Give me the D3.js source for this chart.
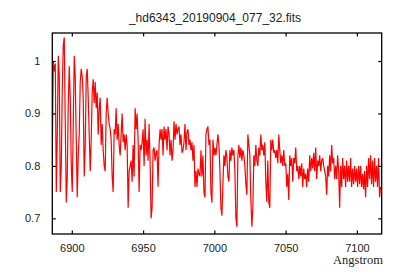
<!DOCTYPE html>
<html>
<head>
<meta charset="utf-8">
<script src="https://cdn.jsdelivr.net/npm/d3@7"></script>
<style>
  body { margin: 0; background: #fff; }
  svg { display: block; }
</style>
</head>
<body>
<div id="dataviz"></div>
<script>
// spectrum header (start wavelength and step, Angstrom)
var crval1 = 6886.3;
var cdelt1 = 0.7;

// normalised flux, one sample per step
var flux = [
  0.82, 1.00, 0.98, 0.995, 0.75, 0.86, 1.01, 0.97, 0.75, 0.80,
  0.95, 1.03, 1.045, 0.88, 0.73, 0.78, 0.92, 0.99, 0.93, 0.80,
  0.75, 0.88, 1.01, 0.97, 0.85, 0.74, 0.82, 0.86, 0.96, 0.985,
  0.97, 0.93, 0.78, 0.84, 0.97, 0.985, 0.93, 0.86, 0.79, 0.85,
  0.94, 0.965, 0.92, 0.96, 0.91, 0.94, 0.86, 0.91, 0.93, 0.84,
  0.88, 0.83, 0.80, 0.79, 0.90, 0.93, 0.90, 0.88, 0.87, 0.85,
  0.78, 0.75, 0.87, 0.86, 0.91, 0.85, 0.88, 0.84, 0.82, 0.86,
  0.90, 0.845, 0.86, 0.83, 0.86, 0.84, 0.72, 0.79, 0.80, 0.81,
  0.77, 0.84, 0.78, 0.91, 0.87, 0.90, 0.85, 0.75, 0.84, 0.83,
  0.845, 0.87, 0.80, 0.89, 0.82, 0.85, 0.81, 0.88, 0.81, 0.70,
  0.72, 0.83, 0.835, 0.81, 0.825, 0.83, 0.76, 0.84, 0.87, 0.85,
  0.87, 0.82, 0.875, 0.85, 0.87, 0.83, 0.875, 0.86, 0.82, 0.85,
  0.81, 0.83, 0.885, 0.85, 0.88, 0.86, 0.87, 0.875, 0.84, 0.86,
  0.825, 0.83, 0.845, 0.88, 0.83, 0.865, 0.87, 0.84, 0.85, 0.83,
  0.845, 0.81, 0.84, 0.76, 0.79, 0.76, 0.795, 0.785, 0.78, 0.83,
  0.78, 0.82, 0.75, 0.74, 0.86, 0.87, 0.875, 0.84, 0.85, 0.75,
  0.73, 0.85, 0.82, 0.835, 0.82, 0.84, 0.86, 0.84, 0.79, 0.72,
  0.705, 0.765, 0.82, 0.80, 0.83, 0.815, 0.78, 0.77, 0.83, 0.81,
  0.835, 0.82, 0.83, 0.79, 0.70, 0.684, 0.82, 0.84, 0.815, 0.835,
  0.81, 0.83, 0.82, 0.80, 0.765, 0.745, 0.86, 0.84, 0.82, 0.735,
  0.684, 0.72, 0.82, 0.80, 0.84, 0.81, 0.80, 0.835, 0.82, 0.86,
  0.83, 0.84, 0.82, 0.845, 0.77, 0.731, 0.81, 0.73, 0.72, 0.85,
  0.83, 0.85, 0.825, 0.83, 0.815, 0.83, 0.805, 0.86, 0.83, 0.805,
  0.82, 0.80, 0.83, 0.80, 0.805, 0.76, 0.785, 0.735, 0.82, 0.80,
  0.815, 0.77, 0.815, 0.805, 0.835, 0.79, 0.80, 0.775, 0.80, 0.78,
  0.805, 0.76, 0.795, 0.775, 0.785, 0.76, 0.795, 0.77, 0.82, 0.79,
  0.815, 0.795, 0.825, 0.79, 0.835, 0.775, 0.81, 0.80, 0.82, 0.79,
  0.81, 0.815, 0.80, 0.79, 0.78, 0.745, 0.80, 0.78, 0.82, 0.79,
  0.84, 0.805, 0.815, 0.775, 0.80, 0.775, 0.82, 0.79, 0.72, 0.80,
  0.76, 0.815, 0.775, 0.80, 0.76, 0.81, 0.77, 0.80, 0.77, 0.815,
  0.76, 0.795, 0.765, 0.80, 0.77, 0.795, 0.76, 0.80, 0.765, 0.80,
  0.76, 0.785, 0.755, 0.79, 0.74, 0.80, 0.76, 0.815, 0.775, 0.82,
  0.765, 0.81, 0.76, 0.815, 0.77, 0.80, 0.76, 0.815, 0.74, 0.76
];

var xTicks = [6900, 6950, 7000, 7050, 7100];
var xTickLabels = ["6900", "6950", "7000", "7050", "7100"];
var yTicks = [0.7, 0.8, 0.9, 1];
var yTickLabels = ["0.7", "0.8", "0.9", "1"];
var xRange = [6886.3, 7117.4];
var yRange = [0.6701, 1.0534];

var title = "_hd6343_20190904_077_32.fits";
var xLabel = "Angstrom";

// plot box in pixels
var boxL = 52.3, boxR = 381.7, boxT = 33, boxB = 234;

var x = d3.scaleLinear().domain(xRange).range([boxL, boxR]);
var y = d3.scaleLinear().domain(yRange).range([boxB, boxT]);

var svg = d3.select('#dataviz').append('svg')
            .attr('width', 400)
            .attr('height', 280);

svg.append('clipPath').attr('id', 'clip')
   .append('rect')
   .attr('x', boxL).attr('y', boxT)
   .attr('width', boxR - boxL).attr('height', boxB - boxT);

var line = d3.line()
             .x(function(d, i){ return x(crval1 + i * cdelt1); })
             .y(function(d){ return y(d); });

svg.append('path')
   .datum(flux)
   .attr('clip-path', 'url(#clip)')
   .attr('fill', 'none')
   .attr('stroke', '#ff0000')
   .attr('stroke-width', 1.2)
   .attr('stroke-linejoin', 'miter')
   .attr('d', line);

// axes, ticks pointing inwards
var tickLen = 3.5;
var fontTicks = 'Liberation Sans, Arial, sans-serif';

var gB = svg.append('g').attr('transform', 'translate(0,' + boxB + ')')
            .call(d3.axisBottom(x).tickValues(xTicks).tickSizeInner(-tickLen).tickSizeOuter(0)
                    .tickPadding(10).tickFormat(function(d, i){ return xTickLabels[i]; }));
var gT = svg.append('g').attr('transform', 'translate(0,' + boxT + ')')
            .call(d3.axisTop(x).tickValues(xTicks).tickSizeInner(-tickLen).tickSizeOuter(0)
                    .tickFormat(''));
var gL = svg.append('g').attr('transform', 'translate(' + boxL + ',0)')
            .call(d3.axisLeft(y).tickValues(yTicks).tickSizeInner(-tickLen).tickSizeOuter(0)
                    .tickPadding(12).tickFormat(function(d, i){ return yTickLabels[i]; }));
var gR = svg.append('g').attr('transform', 'translate(' + boxR + ',0)')
            .call(d3.axisRight(y).tickValues(yTicks).tickSizeInner(-tickLen).tickSizeOuter(0)
                    .tickFormat(''));

[gB, gT, gL, gR].forEach(function(g){
  g.select('.domain').remove();
  g.selectAll('line').attr('stroke', '#000').attr('stroke-width', 1.2);
  g.selectAll('text').attr('font-family', fontTicks).attr('font-size', '11px').attr('fill', '#222');
});

svg.append('rect')
   .attr('x', boxL).attr('y', boxT)
   .attr('width', boxR - boxL).attr('height', boxB - boxT)
   .attr('fill', 'none')
   .attr('stroke', '#000')
   .attr('stroke-width', 1.3);

svg.append('text')
   .attr('x', 215).attr('y', 22)
   .attr('text-anchor', 'middle')
   .attr('font-family', fontTicks)
   .attr('font-size', '12px')
   .attr('fill', '#222')
   .text(title);

svg.append('text')
   .attr('x', 383).attr('y', 264)
   .attr('text-anchor', 'end')
   .attr('font-family', 'Liberation Serif, Times New Roman, serif')
   .attr('font-size', '12.5px')
   .attr('fill', '#222')
   .text(xLabel);
</script>
</body>
</html>
